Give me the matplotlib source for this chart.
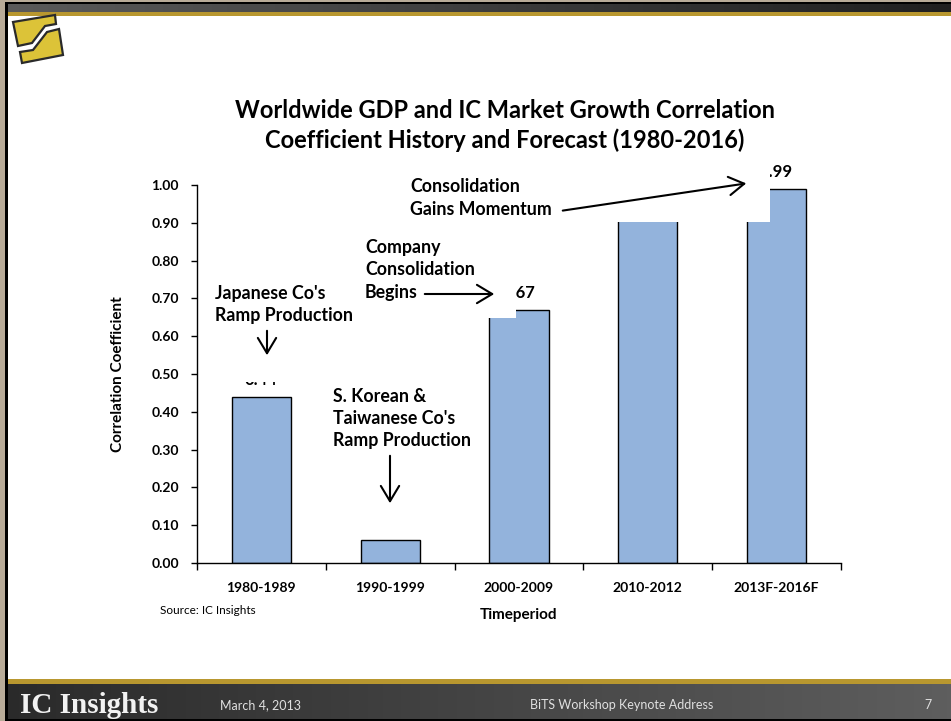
import numpy as np
import matplotlib.pyplot as plt
from matplotlib.patches import Rectangle, Polygon, FancyArrowPatch
from matplotlib.colors import LinearSegmentedColormap

W, H = 951, 721

periods = ["1980-1989", "1990-1999", "2000-2009", "2010-2012", "2013F-2016F"]
coef = [0.44, 0.06, 0.67, 0.95, 0.99]
y_ticks = [0.0, 0.1, 0.2, 0.3, 0.4, 0.5, 0.6, 0.7, 0.8, 0.9, 1.0]

title_lines = ["Worldwide GDP and IC Market Growth Correlation",
               "Coefficient History and Forecast (1980-2016)"]

FONT = "Lato"
BAR = "#93b3dc"
GOLD = "#b8972f"
TAN = "#b8ab98"


def fpx(x, y):
    # slide pixel (top-left origin) -> figure fraction
    return (x / W, 1 - y / H)


def rect(x0, y0, x1, y1, color, z=1):
    (a, b), (c, d) = fpx(x0, y1), fpx(x1, y0)
    fig.add_artist(Rectangle((a, b), c - a, d - b, transform=fig.transFigure,
                             facecolor=color, edgecolor="none", zorder=z))


def gradient(x0, y0, x1, y1, c0, c1):
    (a, b), (c, d) = fpx(x0, y1), fpx(x1, y0)
    gax = fig.add_axes([a, b, c - a, d - b], zorder=1)
    cmap = LinearSegmentedColormap.from_list("g", [c0, c1])
    gax.imshow(np.linspace(0, 1, 256)[None, :], aspect="auto", cmap=cmap)
    gax.axis("off")


fig = plt.figure(figsize=(9.51, 7.21), dpi=100)
fig.patch.set_facecolor("white")

# slide frame: header and footer bars, left border
rect(0, 0, W, 2, TAN)
rect(0, 2, W, 4, "black")
gradient(0, 4, W, 12, "#5b5b5b", "#202020")
rect(0, 12, W, 16, GOLD)
rect(0, 679, W, 684, GOLD)
gradient(0, 684, W, 719, "#2a2a2a", "#5e5e5e")
rect(0, 719, W, H, "black")
rect(0, 0, 5, H, TAN, z=2)
rect(5, 4, 8, H, "black", z=2)

# logo
for pts in ([(13, 22), (55, 15), (56, 24), (45, 26), (32, 43), (18, 46)],
            [(20, 52), (33, 50), (47, 32), (59, 29), (63, 55), (22, 63)]):
    fig.add_artist(Polygon([fpx(*p) for p in pts], closed=True, transform=fig.transFigure,
                           facecolor="#dcc338", edgecolor="#2a2a2a", linewidth=1.6, zorder=3))

# footer text
fig.text(*fpx(20, 713), "IC Insights", family="Liberation Serif", fontweight="bold",
         fontsize=21, color="#f2f2f2", va="baseline", ha="left")
fig.text(*fpx(220, 705), "March 4, 2013", family=FONT, fontsize=9, color="#e0e0e0", va="center")
fig.text(*fpx(622, 705), "BiTS Workshop Keynote Address", family=FONT, fontsize=9,
         color="#e0e0e0", va="center", ha="center")
fig.text(*fpx(928, 705), "7", family=FONT, fontsize=9, color="#e0e0e0", va="center", ha="center")

# chart title
for line, y in zip(title_lines, [111, 140]):
    fig.text(*fpx(505, y), line, family=FONT, fontweight="bold", fontsize=17,
             ha="center", va="center")

ax = fig.add_axes([197 / W, 1 - 563 / H, 644 / W, 378 / H])
x = np.arange(len(periods))
ax.bar(x, coef, width=0.46, color=BAR, edgecolor="black", linewidth=1.0, zorder=2)
for xi, v in zip(x, coef):
    ax.annotate(f"{v:.2f}", (xi, v), xytext=(0, 12), textcoords="offset points",
                ha="center", va="center", family=FONT, fontweight="bold", fontsize=12, zorder=3)

ax.set_xlim(-0.5, len(periods) - 0.5)
ax.set_ylim(0, 1.0)
ax.set_yticks(y_ticks)
ax.set_yticklabels([f"{t:.2f}" for t in y_ticks], family=FONT, fontweight="bold", fontsize=10)
ax.set_xticks(x)
ax.set_xticklabels(periods, family=FONT, fontweight="bold", fontsize=10)
ax.set_xticks(np.arange(len(periods) + 1) - 0.5, minor=True)
ax.tick_params(axis="x", which="major", length=0, pad=14)
ax.tick_params(axis="x", which="minor", length=5, width=1)
ax.tick_params(axis="y", length=4, width=1, pad=9)
for s in ["top", "right"]:
    ax.spines[s].set_visible(False)
ax.spines["left"].set_linewidth(1)
ax.spines["bottom"].set_linewidth(1)

ax.set_ylabel("Correlation Coefficient", family=FONT, fontweight="bold", fontsize=11)
ax.yaxis.set_label_coords((125 - 197) / 644, 0.5)
ax.set_xlabel("Timeperiod", family=FONT, fontweight="bold", fontsize=11, va="center")
ax.xaxis.set_label_coords(0.5, (563 - 615) / 378)

fig.text(*fpx(160, 610), "Source: IC Insights", family=FONT, fontsize=8.5, va="center")

# callout boxes (white fill) with their text and arrows
callouts = [
    (["Japanese Co's", "Ramp Production"], 215, 293, (210, 280, 340, 382), ((267, 328), (267, 358))),
    (["S. Korean &", "Taiwanese Co's", "Ramp Production"], 333, 396, (328, 385, 480, 532), ((390, 453), (390, 506))),
    (["Company", "Consolidation", "Begins"], 365, 247, (360, 235, 516, 318), ((422, 294), (497, 294))),
    (["Consolidation", "Gains Momentum"], 410, 187, (405, 165, 770, 222), ((560, 211), (749, 183))),
]
for lines, tx, ty, box, (p0, p1) in callouts:
    rect(*box, "white", z=5)
    for i, line in enumerate(lines):
        fig.text(*fpx(tx, ty + 22.5 * i), line, family=FONT, fontweight="bold", fontsize=12.8,
                 va="center", ha="left", zorder=6)
    fig.add_artist(FancyArrowPatch(
        fpx(*p0), fpx(*p1), transform=fig.transFigure, arrowstyle="->,head_length=0.5,head_width=0.3",
        mutation_scale=22, linewidth=1.5, color="black", zorder=7))

fig.savefig("out.png", dpi=100)
